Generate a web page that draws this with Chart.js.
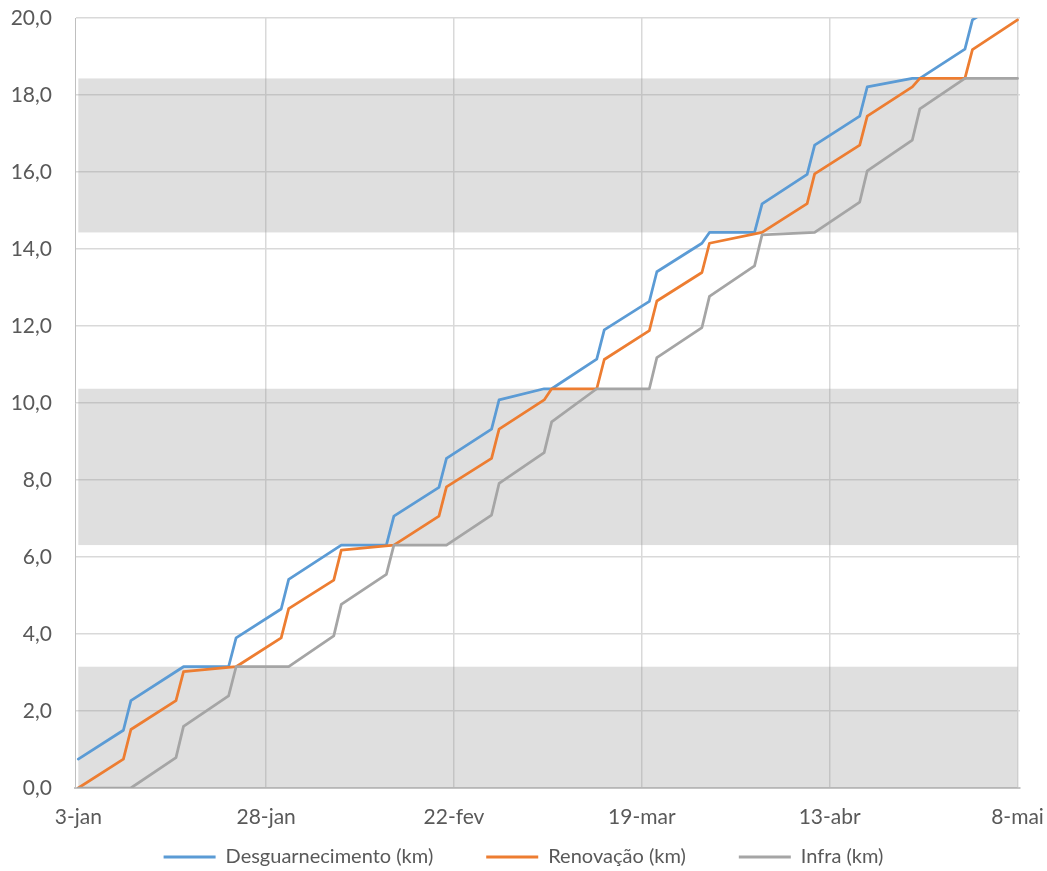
<!DOCTYPE html>
<html>
<head>
<meta charset="utf-8">
<script src="https://cdn.jsdelivr.net/npm/chart.js@4.4.1/dist/chart.umd.min.js"></script>
<style>
  html, body { margin: 0; padding: 0; background: #ffffff; }
  #wrap { width: 1047px; height: 871px; }
</style>
</head>
<body>
<div id="wrap"><canvas id="chart" width="1047" height="871"></canvas></div>
<script>
// Days counted from 3-jan; axis ticks every 25 days
const tickDays = [0, 25, 50, 75, 100, 125];
const tickLabels = ['3-jan', '28-jan', '22-fev', '19-mar', '13-abr', '8-mai'];

// Cumulative km per series (day offset, km)
const desgDays = [0, 6, 7, 14, 20, 21, 27, 28, 35, 41, 42, 48, 49, 55, 56, 62, 63, 69, 70, 76, 77, 83, 84, 90, 91, 97, 98, 104, 105, 111, 112, 118, 119, 125];
const desgKm   = [0.75, 1.5, 2.27, 3.15, 3.15, 3.9, 4.65, 5.42, 6.31, 6.31, 7.06, 7.81, 8.56, 9.32, 10.08, 10.37, 10.37, 11.14, 11.9, 12.64, 13.41, 14.15, 14.43, 14.43, 15.17, 15.94, 16.7, 17.45, 18.21, 18.43, 18.43, 19.19, 19.95, 20.7];

const renovDays = [0, 6, 7, 13, 14, 21, 27, 28, 34, 35, 42, 48, 49, 55, 56, 62, 63, 69, 70, 76, 77, 83, 84, 91, 97, 98, 104, 105, 111, 112, 118, 119, 125];
const renovKm   = [0, 0.75, 1.52, 2.27, 3.02, 3.15, 3.9, 4.66, 5.4, 6.18, 6.31, 7.06, 7.82, 8.56, 9.32, 10.08, 10.37, 10.37, 11.13, 11.88, 12.65, 13.39, 14.15, 14.43, 15.18, 15.95, 16.7, 17.45, 18.21, 18.43, 18.43, 19.18, 19.95];

const infraDays = [0, 7, 13, 14, 20, 21, 28, 34, 35, 41, 42, 49, 55, 56, 62, 63, 69, 76, 77, 83, 84, 90, 91, 98, 104, 105, 111, 112, 118, 125];
const infraKm   = [0, 0, 0.79, 1.6, 2.39, 3.15, 3.15, 3.95, 4.77, 5.55, 6.31, 6.31, 7.09, 7.91, 8.71, 9.51, 10.37, 10.37, 11.18, 11.96, 12.77, 13.56, 14.37, 14.43, 15.22, 16.03, 16.83, 17.64, 18.43, 18.43];

// Shaded km stretches (from, to) across the whole period
const bandRanges = [[0, 3.15], [6.31, 10.37], [14.43, 18.43]];
const bandDays = [0, 125];

const toPoints = (days, km) => days.map((d, i) => ({ x: d, y: km[i] }));

const bandPlugin = {
  id: 'kmBands',
  beforeDatasetsDraw(chart) {
    const { ctx, scales: { x, y } } = chart;
    const x0 = x.getPixelForValue(bandDays[0]);
    const x1 = x.getPixelForValue(bandDays[1]);
    ctx.save();
    ctx.fillStyle = 'rgba(150,150,150,0.3)';
    bandRanges.forEach(([lo, hi]) => {
      const yTop = y.getPixelForValue(hi);
      const yBot = y.getPixelForValue(lo);
      ctx.fillRect(x0, yTop, x1 - x0, yBot - yTop);
    });
    ctx.restore();
  }
};

// Legend row sits closer to the axis labels than its item spacing would imply
const legendPlacement = {
  id: 'legendPlacement',
  afterLayout(chart) {
    const lg = chart.legend;
    if (!lg) return;
    lg.top = 794;
  }
};

const textColor = '#595959';
const fontFamily = 'Lato, "Liberation Sans", sans-serif';

new Chart(document.getElementById('chart'), {
  type: 'line',
  data: {
    datasets: [
      { label: 'Desguarnecimento (km)', data: toPoints(desgDays, desgKm), borderColor: '#5B9BD5', backgroundColor: '#5B9BD5', order: 2 },
      { label: 'Renovação (km)', data: toPoints(renovDays, renovKm), borderColor: '#ED7D31', backgroundColor: '#ED7D31', order: 1 },
      { label: 'Infra (km)', data: toPoints(infraDays, infraKm), borderColor: '#A5A5A5', backgroundColor: '#A5A5A5', order: 0 }
    ]
  },
  options: {
    responsive: false,
    animation: false,
    devicePixelRatio: 1,
    layout: { padding: 0 },
    elements: {
      line: { borderWidth: 2.75, tension: 0, borderJoinStyle: 'round', borderCapStyle: 'round', fill: false },
      point: { radius: 0, hoverRadius: 0, borderWidth: 3 }
    },
    datasets: { line: { clip: 0 } },
    scales: {
      x: {
        type: 'linear',
        min: -0.44,
        max: 125.33,
        grid: {
          color: (c) => (c.tick && c.tick.value === 0) ? 'rgba(0,0,0,0)' : '#d9d9d9',
          lineWidth: 1.5,
          drawTicks: false
        },
        border: { color: '#c4c4c4', width: 2 },
        ticks: {
          padding: 17,
          color: textColor,
          font: { family: fontFamily, size: 21 },
          autoSkip: false,
          maxRotation: 0,
          callback: (v) => tickLabels[tickDays.indexOf(v)]
        },
        afterBuildTicks: (s) => { s.ticks = tickDays.map(v => ({ value: v })); },
        afterFit: (s) => { s.height = 42; s.paddingLeft = 0; s.paddingRight = 27; }
      },
      y: {
        min: 0,
        max: 20,
        grid: { color: '#d9d9d9', lineWidth: 1.5, drawTicks: false },
        border: { color: '#bfbfbf', width: 1 },
        ticks: {
          stepSize: 2,
          padding: 23,
          color: textColor,
          font: { family: fontFamily, size: 21 },
          callback: (v) => v.toFixed(1).replace('.', ',')
        },
        afterFit: (s) => { s.width = 75; s.paddingTop = 18; s.paddingBottom = 0; }
      }
    },
    plugins: {
      legend: {
        position: 'bottom',
        maxHeight: 41,
        labels: {
          usePointStyle: true,
          pointStyle: 'line',
          pointStyleWidth: 52,
          padding: 53,
          color: textColor,
          font: { family: fontFamily, size: 20 },
          sort: (a, b) => a.datasetIndex - b.datasetIndex
        }
      },
      tooltip: { enabled: false }
    }
  },
  plugins: [bandPlugin, legendPlacement]
});
</script>
</body>
</html>
